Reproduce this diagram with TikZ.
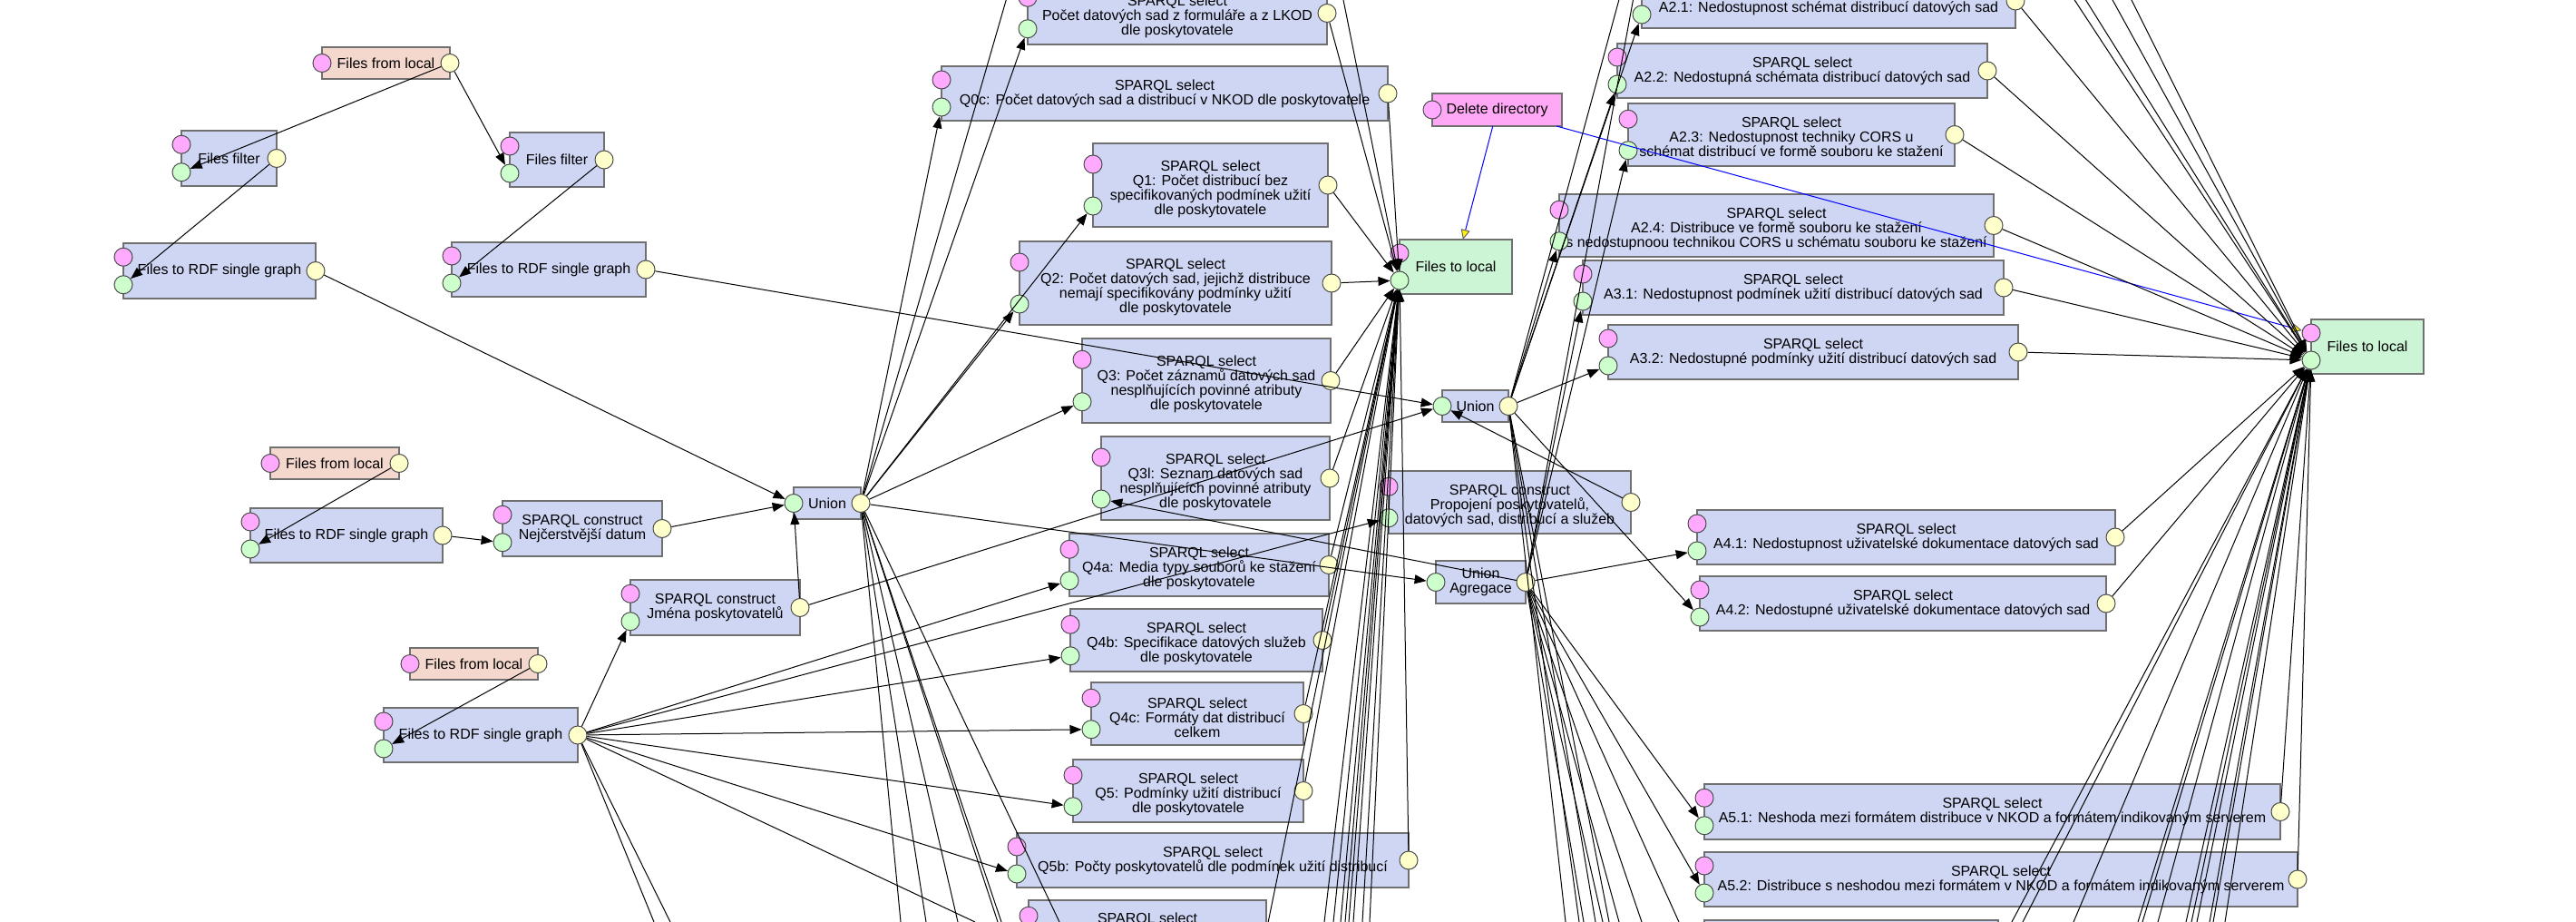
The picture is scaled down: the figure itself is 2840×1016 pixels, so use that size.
\documentclass[tikz,border=0pt]{standalone}
\usepackage{fontspec}
\setmainfont{Liberation Sans}
\usetikzlibrary{calc,arrows.meta}
\definecolor{csp}{RGB}{206,214,244}
\definecolor{cfl}{RGB}{245,216,205}
\definecolor{ctl}{RGB}{204,245,214}
\definecolor{cdd}{RGB}{255,168,245}
\definecolor{cbd}{RGB}{112,112,112}
\definecolor{cpk}{RGB}{255,170,255}
\definecolor{cgr}{RGB}{204,255,204}
\definecolor{cye}{RGB}{255,255,204}
\newcommand\Lfs{\fontsize{8}{8}\selectfont}
\newcommand\Lcomp[8][0]{\node[comp=#3, minimum width={(#6-#4)*0.5pt}, minimum height={(#7-#5)*0.5pt}] (#2) at ({(#4+#6)/2},{(#5+#7)/2}) {};\node[txt] (#2-t) at ({(#4+#6)/2},{(#5+#7)/2+#1}) {#8};}
\newcommand\Lstd[1]{\node[pc] (#1-c) at ($(#1.north west)!0.25!(#1.south west)$) {};\node[pi] (#1-i) at ($(#1.north west)!0.75!(#1.south west)$) {};\node[po] (#1-o) at (#1.east) {};}
\newcommand\Lsrc[1]{\node[pc] (#1-c) at (#1.west) {};\node[po] (#1-o) at (#1.east) {};}
\newcommand\Luni[1]{\node[pi] (#1-i) at (#1.west) {};\node[po] (#1-o) at (#1.east) {};}
\newcommand\Lsink[1]{\node[pc] (#1-c) at ($(#1.north west)!0.25!(#1.south west)$) {};\node[pi] (#1-i) at ($(#1.north west)!0.75!(#1.south west)$) {};}
\begin{document}
\begin{tikzpicture}[x=0.5pt,y=-0.5pt,
 comp/.style={draw=cbd, line width=1pt, fill=#1, inner sep=0pt, outer sep=0pt},
 txt/.style={inner sep=0pt, align=center, font=\Lfs},
 port/.style={circle, draw=black!70, line width=0.5pt, minimum size=10pt, inner sep=0pt},
 pc/.style={port, fill=cpk}, pi/.style={port, fill=cgr}, po/.style={port, fill=cye},
 lk/.style={draw=black, line width=0.5pt, -{Triangle[length=6.5pt,width=5pt]}},
 ln/.style={draw=black, line width=0.5pt},
 ct/.style={draw=blue, line width=0.5pt, -{Triangle[length=5.5pt,width=5pt,color=black!60,fill=yellow]}}]
\fill[white] (0,0) rectangle (2840,1016);
\useasboundingbox (0,0) rectangle (2840,1016);
\clip (0,0) rectangle (2840,1016);
% ---------- left cluster
\Lcomp{FLa}{cfl}{355}{52}{496}{87}{Files from local}\Lsrc{FLa}
\Lcomp{FFa}{csp}{200}{144}{305}{205}{Files filter}\Lstd{FFa}
\Lcomp{FFb}{csp}{562}{146}{666}{206}{Files filter}\Lstd{FFb}
\Lcomp{FRa}{csp}{136}{268}{348}{329}{Files to RDF single graph}\Lstd{FRa}
\Lcomp{FRb}{csp}{498}{267}{712}{327}{Files to RDF single graph}\Lstd{FRb}
\Lcomp{FLb}{cfl}{298}{493}{440}{528}{Files from local}\Lsrc{FLb}
\Lcomp{FRc}{csp}{276}{560}{488}{620}{Files to RDF single graph}\Lstd{FRc}
\Lcomp{SCa}{csp}{554}{552}{730}{613}{SPARQL construct\\Nejčerstvější datum}\Lstd{SCa}
\Lcomp{SCb}{csp}{695}{639}{882}{700}{SPARQL construct\\Jména poskytovatelů}\Lstd{SCb}
\Lcomp{FLc}{cfl}{452}{714}{593}{749}{Files from local}\Lsrc{FLc}
\Lcomp{FRd}{csp}{423}{780}{637}{840}{Files to RDF single graph}\Lstd{FRd}
\Lcomp{Ua}{csp}{875}{537}{949}{572}{Union}\Luni{Ua}
% ---------- middle column
\Lcomp[4]{Sz}{csp}{1133}{-20}{1463}{49}{SPARQL select\\Počet datových sad z formuláře a z LKOD\\dle poskytovatele}\Lstd{Sz}
\Lcomp{Szc}{csp}{1038}{73}{1530}{133}{SPARQL select\\Q0c: Počet datových sad a distribucí v NKOD dle poskytovatele}\Lstd{Szc}
\Lcomp[4]{Qa}{csp}{1205}{158}{1464}{250}{SPARQL select\\Q1: Počet distribucí bez\\specifikovaných podmínek užití\\dle poskytovatele}\Lstd{Qa}
\Lcomp[4]{Qb}{csp}{1124}{266}{1468}{358}{SPARQL select\\Q2: Počet datových sad, jejichž distribuce\\nemají specifikovány podmínky užití\\dle poskytovatele}\Lstd{Qb}
\Lcomp[4]{Qc}{csp}{1193}{373}{1467}{466}{SPARQL select\\Q3: Počet záznamů datových sad\\nesplňujících povinné atributy\\dle poskytovatele}\Lstd{Qc}
\Lcomp[4]{Qd}{csp}{1214}{481}{1466}{573}{SPARQL select\\Q3l: Seznam datových sad\\nesplňujících povinné atributy\\dle poskytovatele}\Lstd{Qd}
\Lcomp[4]{Qe}{csp}{1179}{588}{1465}{657}{SPARQL select\\Q4a: Media typy souborů ke stažení\\dle poskytovatele}\Lstd{Qe}
\Lcomp[4]{Qf}{csp}{1180}{671}{1458}{740}{SPARQL select\\Q4b: Specifikace datových služeb\\dle poskytovatele}\Lstd{Qf}
\Lcomp[4]{Qg}{csp}{1203}{752}{1437}{821}{SPARQL select\\Q4c: Formáty dat distribucí\\celkem}\Lstd{Qg}
\Lcomp[4]{Qh}{csp}{1183}{837}{1437}{906}{SPARQL select\\Q5: Podmínky užití distribucí\\dle poskytovatele}\Lstd{Qh}
\Lcomp{Qi}{csp}{1121}{918}{1553}{978}{SPARQL select\\Q5b: Počty poskytovatelů dle podmínek užití distribucí}\Lstd{Qi}
\Lcomp[4]{Qj}{csp}{1134}{992}{1396}{1061}{SPARQL select\\\strut\\\strut}\Lstd{Qj}
\Lcomp{Ta}{ctl}{1543}{264}{1667}{324}{Files to local}\Lsink{Ta}
\Lcomp{DD}{cdd}{1579}{103}{1722}{139}{Delete directory}\node[pc] (DD-c) at (DD.west) {};
\Lcomp{Ub}{csp}{1590}{430}{1663}{465}{Union}\Luni{Ub}
\Lcomp[4]{SCc}{csp}{1531}{519}{1798}{588}{SPARQL construct\\Propojení poskytovatelů,\\datových sad, distribucí a služeb}\Lstd{SCc}
\Lcomp{Uc}{csp}{1583}{618}{1682}{665}{Union\\Agregace}\Luni{Uc}
% ---------- right column
\Lcomp{Aa}{csp}{1810}{-29}{2222}{31}{SPARQL select\\A2.1: Nedostupnost schémat distribucí datových sad}\Lstd{Aa}
\Lcomp{Ab}{csp}{1783}{48}{2191}{108}{SPARQL select\\A2.2: Nedostupná schémata distribucí datových sad}\Lstd{Ab}
\Lcomp[2]{Ac}{csp}{1795}{114}{2155}{183}{SPARQL select\\A2.3: Nedostupnost techniky CORS u\\schémat distribucí ve formě souboru ke stažení}\Lstd{Ac}
\Lcomp[4]{Ad}{csp}{1719}{214}{2198}{283}{SPARQL select\\A2.4: Distribuce ve formě souboru ke stažení\\s nedostupnoou technikou CORS u schématu souboru ke stažení}\Lstd{Ad}
\Lcomp{Ae}{csp}{1745}{287}{2209}{347}{SPARQL select\\A3.1: Nedostupnost podmínek užití distribucí datových sad}\Lstd{Ae}
\Lcomp{Af}{csp}{1773}{358}{2225}{418}{SPARQL select\\A3.2: Nedostupné podmínky užití distribucí datových sad}\Lstd{Af}
\Lcomp{Ag}{csp}{1871}{562}{2332}{622}{SPARQL select\\A4.1: Nedostupnost uživatelské dokumentace datových sad}\Lstd{Ag}
\Lcomp{Ah}{csp}{1874}{635}{2322}{695}{SPARQL select\\A4.2: Nedostupné uživatelské dokumentace datových sad}\Lstd{Ah}
\Lcomp{Ai}{csp}{1879}{864}{2514}{925}{SPARQL select\\A5.1: Neshoda mezi formátem distribuce v NKOD a formátem indikovaným serverem}\Lstd{Ai}
\Lcomp{Aj}{csp}{1879}{939}{2533}{999}{SPARQL select\\A5.2: Distribuce s neshodou mezi formátem v NKOD a formátem indikovaným serverem}\Lstd{Aj}
\Lcomp{Ak}{csp}{1879}{1014}{2203}{1074}{}\Lstd{Ak}
\Lcomp{Tb}{ctl}{2548}{352}{2672}{412}{Files to local}\Lsink{Tb}
% ---------- control links
\draw[ct] (DD) -- (Ta);
\draw[ct] (DD) -- (Tb-c);
% ---------- data links, left
\draw[lk] (FLa-o) -- (FFa-i);
\draw[lk] (FLa-o) -- (FFb-i);
\draw[lk] (FFa-o) -- (FRa-i);
\draw[lk] (FFb-o) -- (FRb-i);
\draw[lk] (FRa-o) -- (Ua-i);
\draw[lk] (FRb-o) -- (Ub-i);
\draw[lk] (FLb-o) -- (FRc-i);
\draw[lk] (FRc-o) -- (SCa-i);
\draw[lk] (SCa-o) -- (Ua-i);
\draw[lk] (SCb-o) -- (Ua-i);
\draw[lk] (SCb-o) -- (Ub-i);
\draw[lk] (FLc-o) -- (FRd-i);
\foreach \t in {SCb,SCc,Qe,Qf,Qg,Qh,Qi} \draw[lk] (FRd-o) -- (\t-i);
\foreach \x [count=\k] in {721,739,1075} {\coordinate (fdb\k) at (\x,1016); \draw[ln] (FRd-o) -- (fdb\k);}
% ---------- union 1
\foreach \t in {Sz,Szc,Qa,Qb,Qc,Uc} \draw[lk] (Ua-o) -- (\t-i);
\coordinate (uat) at (1115,-20); \draw[ln] (Ua-o) -- (uat);
\foreach \x [count=\k] in {993,1021,1056,1100,1104,1168} {\coordinate (uab\k) at (\x,1016); \draw[ln] (Ua-o) -- (uab\k);}
% ---------- into Files to local 1
\foreach \t in {Sz,Szc,Qa,Qb,Qc,Qd,Qe,Qf,Qg,Qh,Qi,Qj} \draw[lk] (\t-o) -- (Ta-i);
\coordinate (tat) at (1477,-20); \draw[lk] (tat) -- (Ta-i);
\foreach \x [count=\k] in {1460,1470,1478,1483,1487,1492,1502,1510} {\coordinate (tab\k) at (\x,1016); \draw[lk] (tab\k) -- (Ta-i);}
% ---------- unions 2 and 3
\draw[lk] (SCc-o) -- (Ub-i);
\foreach \t in {Qd,Ae,Ac,Ag,Ai,Aj} \draw[lk] (Uc-o) -- (\t-i);
\coordinate (uct) at (1806,-30); \draw[ln] (Uc-o) -- (uct);
\foreach \x [count=\k] in {1746,1767,1785,1810,1851} {\coordinate (ucb\k) at (\x,1016); \draw[ln] (Uc-o) -- (ucb\k);}
\foreach \t in {Ad,Ab,Aa,Af,Ah} \draw[lk] (Ub-o) -- (\t-i);
\coordinate (ubt) at (1793,-30); \draw[ln] (Ub-o) -- (ubt);
\foreach \x [count=\k] in {1726,1741,1759,1774} {\coordinate (ubb\k) at (\x,1016); \draw[ln] (Ub-o) -- (ubb\k);}
% ---------- into Files to local 2
\foreach \t in {Aa,Ab,Ac,Ad,Ae,Af,Ag,Ah,Ai,Aj,Ak} \draw[lk] (\t-o) -- (Tb-i);
\foreach \x [count=\k] in {2274,2287,2318,2340} {\coordinate (tbt\k) at (\x,-20); \draw[lk] (tbt\k) -- (Tb-i);}
\foreach \x [count=\k] in {2230,2286,2357,2362,2379,2410,2416,2422,2436,2440,2453} {\coordinate (tbb\k) at (\x,1016); \draw[lk] (tbb\k) -- (Tb-i);}
\end{tikzpicture}
\end{document}
